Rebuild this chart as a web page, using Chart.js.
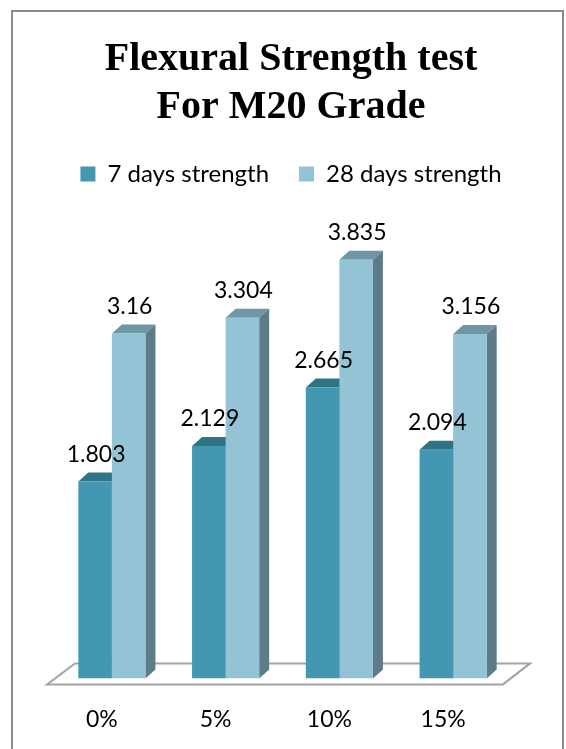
<!DOCTYPE html>
<html>
<head>
<meta charset="utf-8">
<script src="https://cdn.jsdelivr.net/npm/chart.js@4.4.0/dist/chart.umd.min.js"></script>
<style>
  html, body { margin: 0; padding: 0; background: #fff; }
  .mainGraph { width: 566px; height: 749px; }
</style>
</head>
<body>
<div class="mainGraph"><canvas id="mainChart" width="566" height="749"></canvas></div>
<script>
const categories = ['0%', '5%', '10%', '15%'];
const sevenDays = [1.803, 2.129, 2.665, 2.094];
const twentyEightDays = [3.16, 3.304, 3.835, 3.156];
const seriesNames = ['7 days strength', '28 days strength'];
const titleLines = ['Flexural Strength test', 'For M20 Grade'];

// colours of the faces: front, top, side
const faces = [
  { front: '#4397b0', top: '#2e7485', side: '#2b6a7a' },
  { front: '#93c3d5', top: '#6f96a4', side: '#5d7c88' }
];
const depthX = 10, depthY = 9;

// white page + grey frame round the chart
const frame = {
  id: 'frame',
  beforeDraw(chart) {
    const ctx = chart.ctx;
    ctx.save();
    ctx.fillStyle = '#fff';
    ctx.fillRect(0, 0, chart.width, chart.height);
    ctx.strokeStyle = '#8c8c8c';
    ctx.lineWidth = 2;
    ctx.strokeRect(12, 11, 551, 800);
    ctx.restore();
  }
};

// floor, top faces and side faces, drawn behind the front of the bars
const fake3d = {
  id: 'fake3d',
  beforeDatasetsDraw(chart) {
    const ctx = chart.ctx;
    const a = chart.chartArea;
    ctx.save();
    // floor
    ctx.beginPath();
    ctx.moveTo(a.left - 8, a.bottom + 6);
    ctx.lineTo(a.right - 7, a.bottom + 6);
    ctx.lineTo(a.right + 20, a.bottom - 15);
    ctx.lineTo(a.left + 20, a.bottom - 15);
    ctx.closePath();
    ctx.fillStyle = '#fff';
    ctx.fill();
    ctx.strokeStyle = '#a3a3a3';
    ctx.lineWidth = 2;
    ctx.stroke();

    chart.data.datasets.forEach((ds, i) => {
      const meta = chart.getDatasetMeta(i);
      const c = faces[i];
      meta.data.forEach((bar) => {
        const p = bar.getProps(['x', 'y', 'base', 'width'], true);
        const x0 = p.x - p.width / 2, x1 = p.x + p.width / 2;
        // top
        ctx.beginPath();
        ctx.moveTo(x0, p.y);
        ctx.lineTo(x1, p.y);
        ctx.lineTo(x1 + depthX, p.y - depthY);
        ctx.lineTo(x0 + depthX, p.y - depthY);
        ctx.closePath();
        ctx.fillStyle = c.top;
        ctx.fill();
        // side
        ctx.beginPath();
        ctx.moveTo(x1, p.y);
        ctx.lineTo(x1 + depthX, p.y - depthY);
        ctx.lineTo(x1 + depthX, p.base - depthY);
        ctx.lineTo(x1, p.base);
        ctx.closePath();
        ctx.fillStyle = c.side;
        ctx.fill();
      });
    });
    ctx.restore();
  }
};

// value over every bar
const valueLabels = {
  id: 'valueLabels',
  afterDatasetsDraw(chart) {
    const ctx = chart.ctx;
    ctx.save();
    ctx.font = '23px Lato';
    ctx.fillStyle = '#000';
    ctx.textAlign = 'center';
    ctx.textBaseline = 'alphabetic';
    chart.data.datasets.forEach((ds, i) => {
      chart.getDatasetMeta(i).data.forEach((bar, j) => {
        ctx.fillText(String(ds.data[j]), bar.x + 1, bar.y - 20);
      });
    });
    ctx.restore();
  }
};

// invisible axes that only hold room left and right of the bars
function sideRoom(w) {
  return {
    grid: { display: false, drawTicks: false },
    border: { display: false },
    ticks: { display: false },
    afterFit(scale) { scale.width = w; }
  };
}

let ctx = document.getElementById('mainChart').getContext('2d');
let chart = new Chart(ctx, {
  type: 'bar',
  data: {
    labels: categories,
    datasets: [{
      label: seriesNames[0],
      data: sevenDays,
      backgroundColor: faces[0].front,
      borderWidth: 0
    }, {
      label: seriesNames[1],
      data: twentyEightDays,
      backgroundColor: faces[1].front,
      borderWidth: 0
    }]
  },
  options: {
    responsive: false,
    animation: false,
    events: [],
    categoryPercentage: 0.59,
    barPercentage: 1.0,
    layout: { padding: { left: 16, right: 0, top: 0, bottom: -11 } },
    plugins: {
      title: {
        display: true,
        text: titleLines,
        color: '#000',
        font: { family: 'Liberation Serif', size: 40, weight: 'bold', lineHeight: 1.2 },
        padding: { top: 36, bottom: 0 }
      },
      legend: {
        display: true,
        position: 'top',
        labels: {
          color: '#000',
          font: { family: 'Lato', size: 24 },
          boxWidth: 15,
          boxHeight: 15,
          padding: 30
        }
      },
      tooltip: { enabled: false }
    },
    scales: {
      x: {
        grid: { display: false, drawTicks: false },
        border: { display: false },
        ticks: { color: '#000', font: { family: 'Lato', size: 23 }, padding: 27, labelOffset: -10 }
      },
      y: Object.assign(sideRoom(39), { min: 0, max: 4.42 }),
      yRight: Object.assign(sideRoom(56), { position: 'right' })
    }
  },
  plugins: [frame, fake3d, valueLabels]
});
</script>
</body>
</html>
